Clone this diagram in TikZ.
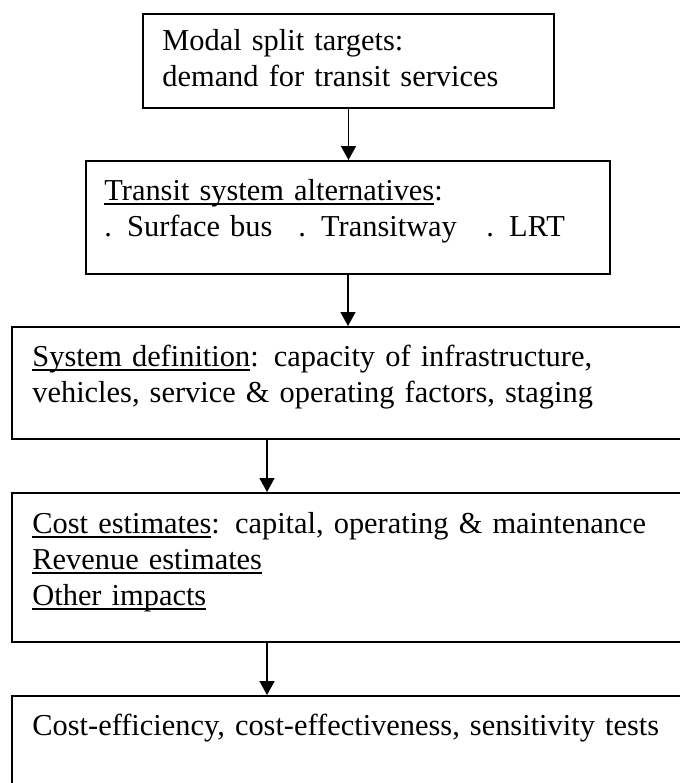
\documentclass[tikz,border=0pt]{standalone}
\usepackage{fontspec}
\setmainfont{Liberation Serif}
\usetikzlibrary{arrows.meta, positioning, calc}
\tikzstyle{stage} = [rectangle, draw=black, line width=1pt, anchor=north west, inner sep=0pt]
\tikzstyle{boxtext} = [anchor=base west, inner sep=0pt, text width=330pt, align=left, font=\fontsize{15.2}{18}\selectfont]
\tikzstyle{arrow} = [line width=0.75pt, -{Triangle[length=7pt,width=7.5pt]}]
\newcommand{\ulbox}[1]{\leavevmode\sbox0{#1}\rlap{\rule[-2.5pt]{\wd0}{1pt}}\usebox0}

\begin{document}
\begin{tikzpicture}[x=0.5pt, y=-0.5pt]
\useasboundingbox (0,0) rectangle (680,783);

% Boxes of the planning steps
\node (targets) [stage, minimum width=205.5pt, minimum height=47pt] at (142,13) {};
\node (alternatives) [stage, minimum width=262pt, minimum height=56.5pt] at (85,160) {};
\node (definition) [stage, minimum width=345pt, minimum height=56pt] at (11,326) {};
\node (estimates) [stage, minimum width=345pt, minimum height=74.5pt] at (11,492) {};
\node (evaluation) [stage, minimum width=345pt, minimum height=60pt] at (11,695) {};

% Texts inside the boxes
\node (targets_txt) [boxtext] at ($(targets.north west)+(20,37)$) {Modal split targets:\\demand for transit services};
\node (alternatives_txt) [boxtext] at ($(alternatives.north west)+(19,40)$) {\ulbox{Transit system alternatives}:\\\makebox[97pt][l]{. Surface bus}\makebox[94pt][l]{. Transitway}. LRT};
\node (definition_txt) [boxtext] at ($(definition.north west)+(21,40)$) {\ulbox{System definition}: capacity of infrastructure,\\vehicles, service \& operating factors, staging};
\node (estimates_txt) [boxtext] at ($(estimates.north west)+(21,41)$) {\ulbox{Cost estimates}: capital, operating \& maintenance\\\ulbox{Revenue estimates}\\\ulbox{Other impacts}};
\node (evaluation_txt) [boxtext] at ($(evaluation.north west)+(21,40)$) {Cost-efficiency, cost-effectiveness, sensitivity tests};

% Connections between the boxes
\draw [arrow] (targets.south) -- (targets.south |- alternatives.north);
\draw [arrow] (alternatives.south) -- (alternatives.south |- definition.north);
\draw [arrow] ($(definition.south west)+(256,0)$) -- ($(estimates.north west)+(256,0)$);
\draw [arrow] ($(estimates.south west)+(256,0)$) -- ($(evaluation.north west)+(256,0)$);

\end{tikzpicture}
\end{document}
